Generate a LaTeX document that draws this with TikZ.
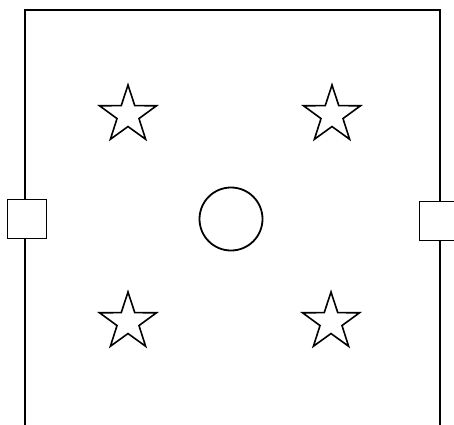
\documentclass[tikz,border=0pt]{standalone}
\usepackage{pgf,tikz}
\usepackage{tkz-euclide}
\usepackage{xcolor}
\usetikzlibrary{arrows, calc, shapes.geometric}

\tikzset{
    wall/.style={line width=1.8pt, line cap=rect},
    door/.style={draw, line width=1.8pt, fill=white, minimum size=39pt, inner sep=0pt},
    lamp/.style={draw, line width=1.6pt, star, star points=5, star point ratio=2.6, minimum size=60pt, inner sep=0pt},
    table/.style={draw, line width=1.8pt, circle, minimum size=63pt, inner sep=0pt}
}

\begin{document}
\begin{tikzpicture}[x=1pt,y=-1pt]
    \useasboundingbox (0,0) rectangle (454,424);
    \tkzDefPoint(25,424){w_1}
    \tkzDefPoint(25,10){w_2}
    \tkzDefPoint(440,10){w_3}
    \tkzDefPoint(440,424){w_4}
    \draw[wall] (w_1) -- (w_2) -- (w_3) -- (w_4);
    % doors on both sides
    \node[door] (d_1) at (27,219) {};
    \node[door] (d_2) at (439,221) {};
    % lamps and the table
    \node[lamp] (s_1) at (128,115) {};
    \node[lamp] (s_2) at (332,115) {};
    \node[lamp] (s_3) at (128,322) {};
    \node[lamp] (s_4) at (331,322) {};
    \node[table] (t) at (231,219) {};
\end{tikzpicture}
\end{document}
